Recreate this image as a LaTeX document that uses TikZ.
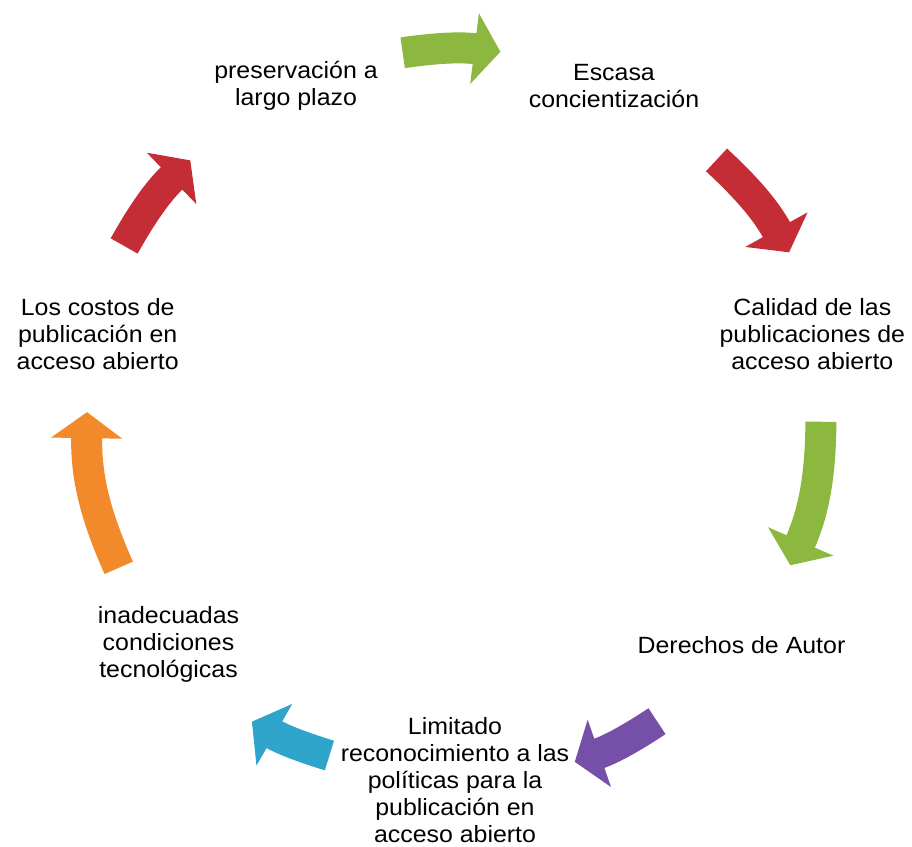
\documentclass[tikz,border=0pt]{standalone}
\usepackage{fontspec}
\setmainfont[FakeStretch=1.06]{Liberation Sans}
\usepackage{tikz}
\usetikzlibrary{positioning,calc,arrows.meta}

\definecolor{cycgreen}{HTML}{8CB83F}
\definecolor{cycred}{HTML}{C42D35}
\definecolor{cycpurple}{HTML}{7650A8}
\definecolor{cycblue}{HTML}{2FA5CB}
\definecolor{cycorange}{HTML}{F28A2C}

\tikzset{
  cyctext/.style={align=center, inner sep=0pt, font=\fontsize{23.5}{27}\selectfont},
  cycarrow/.style={draw=#1, line width=31pt, line cap=butt,
    -{Triangle[length=26pt,width=70pt]}}
}

\begin{document}
\begin{tikzpicture}[x=1pt, y=1pt]
    \useasboundingbox (0,0) rectangle (912,846);
    \coordinate (ctr) at (455,430);

    % Define nodes
    \node[cyctext] (esc) at ($(ctr)+(64.3:366.6)$) {Escasa\\concientización};
    \node[cyctext] (cal) at ($(ctr)+(12.9:366.6)$) {Calidad de las\\publicaciones de\\acceso abierto};
    \node[cyctext] (der) at ($(ctr)+(-38.6:366.6)$) {Derechos de Autor};
    \node[cyctext, anchor=south] (lim) at ($(ctr)+(0,-427)$) {Limitado\\reconocimiento a las\\políticas para la\\publicación en\\acceso abierto};
    \node[cyctext] (ina) at ($(ctr)+(218.6:366.6)$) {inadecuadas\\condiciones\\tecnológicas};
    \node[cyctext] (cos) at ($(ctr)+(167.1:366.6)$) {Los costos de\\publicación en\\acceso abierto};
    \node[cyctext] (pre) at ($(ctr)+(115.7:366.6)$) {preservación a\\largo plazo};

    % Arrow ends
    \coordinate (a1s) at ($(ctr)+(98.2:367)$);
    \coordinate (a1e) at ($(ctr)+(82.9:367)$);
    \coordinate (a2s) at ($(ctr)+(44.4:366)$);
    \coordinate (a2e) at ($(ctr)+(26.1:372)$);
    \coordinate (a3s) at ($(ctr)+(-0.9:366)$);
    \coordinate (a3e) at ($(ctr)+(-24:367)$);
    \coordinate (a4s) at ($(ctr)+(-56.5:366)$);
    \coordinate (a4e) at ($(ctr)+(-70.9:366)$);
    \coordinate (a5s) at ($(ctr)+(-110.3:362)$);
    \coordinate (a5e) at ($(ctr)+(-123.6:367)$);
    \coordinate (a6s) at ($(ctr)+(204.3:369)$);
    \coordinate (a6e) at ($(ctr)+(179.4:368)$);
    \coordinate (a7s) at ($(ctr)+(152.8:372)$);
    \coordinate (a7e) at ($(ctr)+(136:368)$);

    % Draw arrows
    \draw[cycarrow=cycgreen] (a1s) to[bend left=7.6] (a1e);
    \draw[cycarrow=cycred] (a2s) to[bend left=9.1] (a2e);
    \draw[cycarrow=cycgreen] (a3s) to[bend left=11.5] (a3e);
    \draw[cycarrow=cycpurple] (a4s) to[bend left=7.2] (a4e);
    \draw[cycarrow=cycblue] (a5s) to[bend left=6.6] (a5e);
    \draw[cycarrow=cycorange] (a6s) to[bend left=12.4] (a6e);
    \draw[cycarrow=cycred] (a7s) to[bend left=8.4] (a7e);
\end{tikzpicture}
\end{document}
